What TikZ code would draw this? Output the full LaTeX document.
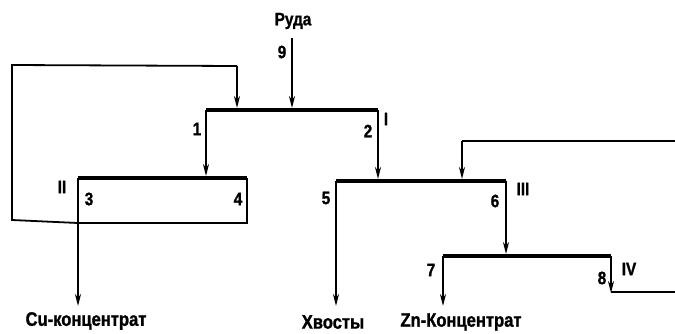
\documentclass[tikz,border=0pt]{standalone}
\usepackage{fontspec}
\setmainfont{Liberation Sans}[FakeStretch=0.85,BoldFeatures={FakeBold=1.2}]
\usetikzlibrary{arrows.meta}
\begin{document}
\begin{tikzpicture}[x=1pt,y=-1pt,
  flow/.style={line width=1.8pt},
  bar/.style={line width=4.2pt},
  arr/.style={line width=1.8pt,-{Stealth[length=12pt,width=6pt]}},
  lbl/.style={font=\fontsize{18}{18}\selectfont\bfseries,inner sep=0pt},
  prod/.style={font=\fontsize{19.5}{19.5}\selectfont\bfseries,inner sep=0pt}]
\useasboundingbox (0,0) rectangle (675,333);
% coordinates
\coordinate (IL) at (206,110); \coordinate (IR) at (378,110);
\coordinate (IIL) at (78,178); \coordinate (IIR) at (247,178);
\coordinate (IIIL) at (336,181); \coordinate (IIIR) at (506,181);
\coordinate (IVL) at (443,256); \coordinate (IVR) at (611,256);
\coordinate (feedtop) at (292,38); \coordinate (feedin) at (292,108);
\coordinate (rec1in) at (237,108); \coordinate (rec1top) at (237,66);
\coordinate (rec1tl) at (12,65); \coordinate (rec1bl) at (12,220);
\coordinate (rec1br) at (247,223);
\coordinate (rec2in) at (462,179); \coordinate (rec2top) at (462,141);
\coordinate (rec2end) at (675,141);
\coordinate (r8c) at (611,292); \coordinate (r8end) at (675,292);
\coordinate (IIin) at (206,176); \coordinate (IIIin) at (378,179); \coordinate (IVin) at (506,254);
\coordinate (cuend) at (78,306); \coordinate (xvend) at (336,306); \coordinate (znend) at (443,306);
\coordinate (r8arr) at (611,293);
% bars
\draw[bar] (IL) -- (IR);
\draw[bar] (IIL) -- (IIR);
\draw[bar] (IIIL) -- (IIIR);
\draw[bar] (IVL) -- (IVR);
% feed
\node[lbl] (ruda) at (293,21) {Руда};
\draw[arr] (feedtop) -- (feedin);
\node[lbl] (n9) at (282,52) {9};
% I legs
\draw[arr] (IL) -- (IIin);
\draw[arr] (IR) -- (IIIin);
% II legs and recycle
\draw[arr] (IIL) -- (cuend);
\draw[flow] (IIR) -- (rec1br) -- (IIL |- rec1br) -- (rec1bl) -- (rec1tl) -- (rec1top);
\draw[arr] (rec1top) -- (rec1in);
% III legs
\draw[arr] (IIIL) -- (xvend);
\draw[arr] (IIIR) -- (IVin);
% recycle 2
\draw[flow] (rec2end) -- (rec2top);
\draw[arr] (rec2top) -- (rec2in);
% IV legs
\draw[arr] (IVL) -- (znend);
\draw[arr] (IVR) -- (r8arr);
\draw[flow] (r8c) -- (r8end);
% labels
\node[lbl] (l1) at (197,129) {1};
\node[lbl] (l2) at (368,131) {2};
\node[lbl] (lI) at (386,119) {I};
\node[lbl] (lII) at (62,187) {II};
\node[lbl] (l3) at (89,199) {3};
\node[lbl] (l4) at (238,199) {4};
\node[lbl] (lIII) at (523,189) {III};
\node[lbl] (l5) at (326,198) {5};
\node[lbl] (l6) at (495,201) {6};
\node[lbl] (l7) at (431,270) {7};
\node[lbl] (l8) at (602,278) {8};
\node[lbl] (lIV) at (629,269) {IV};
\node[prod] (cu) at (86,321) {Cu-концентрат};
\node[prod] (xv) at (333,322) {Хвосты};
\node[prod] (zn) at (461,322) {Zn-Концентрат};
\end{tikzpicture}
\end{document}
